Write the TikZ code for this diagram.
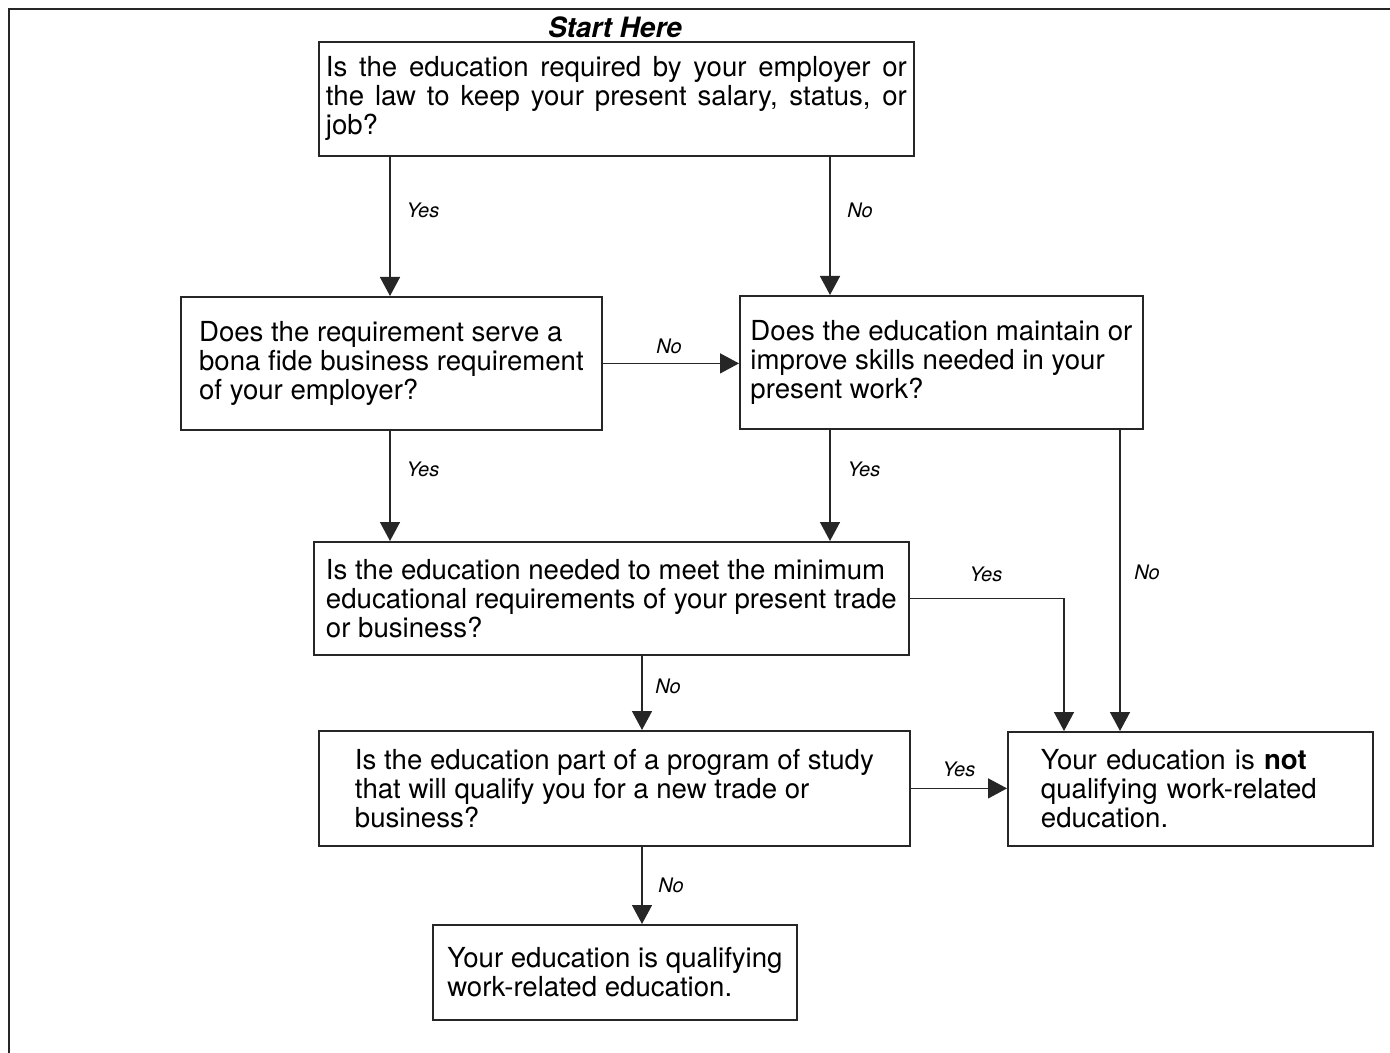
\documentclass[tikz,border=0pt]{standalone}
\usepackage{fontspec}
\setmainfont{TeX Gyre Heros}
\usetikzlibrary{
    arrows.meta
}
\tolerance=9999

\tikzset{
    qbox/.style={draw=black!85, line width=0.9pt, rectangle, anchor=north west,
        align=left, inner sep=0pt, font=\fontsize{13.8}{14.5}\selectfont},
    flow/.style={draw=black!85, line width=0.75pt, -{Triangle[length=9.5pt,width=10pt]}},
    lbl/.style={font=\fontsize{10}{12}\selectfont\itshape, inner sep=0pt}
}

\begin{document}
\begin{tikzpicture}[x=0.5pt, y=-0.5pt]
    \useasboundingbox (0,0) rectangle (1390,1053);
    % Rahmen oben und links
    \draw[line width=1pt, black!85] (9,1053) -- (9,9) -- (1390,9);

    \node[font=\fontsize{14}{16}\selectfont\bfseries\itshape] (start) at (615,27) {Start Here};

    \node[qbox, minimum width=297.5pt, minimum height=57pt, text width=290.5pt,
        inner xsep=3.5pt, align=justify] (q1) at (318,41)
        {Is the education required by your employer or\linebreak the law to keep your present salary, status, or\linebreak job?};
    \node[qbox, minimum width=210.5pt, minimum height=66.5pt] (q2) at (180,296)
        {Does the requirement serve a\\bona fide business requirement\\of your employer?};
    \node[qbox, minimum width=201.5pt, minimum height=66.5pt] (q3) at (739,295)
        {Does the education maintain or\\improve skills needed in your\\present work?};
    \node[qbox, minimum width=297.5pt, minimum height=56.5pt] (q4) at (313,541)
        {Is the education needed to meet the minimum\\educational requirements of your present trade\\or business?};
    \node[qbox, minimum width=295.5pt, minimum height=57.5pt] (q5) at (318,730)
        {Is the education part of a program of study\\that will qualify you for a new trade or\\business?};
    \node[qbox, minimum width=182.5pt, minimum height=57pt, text width=149.5pt,
        inner xsep=16.5pt] (notq) at (1007,731)
        {Your education is \textbf{not}\\qualifying work-related\\education.};
    \node[qbox, minimum width=182pt, minimum height=47.5pt] (qual) at (432,924)
        {Your education is qualifying\\work-related education.};

    % Spalten der senkrechten Pfeile
    \coordinate (cx1) at (390,0);
    \coordinate (cx2) at (830,0);
    \coordinate (cx3) at (1064,0);
    \coordinate (cx4) at (1120,0);
    \coordinate (cx5) at (642,0);

    \draw[flow] (q1.south -| cx1) -- (q2.north -| cx1);
    \draw[flow] (q1.south -| cx2) -- (q3.north -| cx2);
    \draw[flow] (q2.east) -- (q2.east -| q3.west);
    \draw[flow] (q2.south -| cx1) -- (q4.north -| cx1);
    \draw[flow] (q3.south -| cx2) -- (q4.north -| cx2);
    \draw[flow] (q3.south -| cx4) -- (notq.north -| cx4);
    \draw[flow] (q4.east) -| (notq.north -| cx3);
    \draw[flow] (q4.south -| cx5) -- (q5.north -| cx5);
    \draw[flow] (q5.east) -- (q5.east -| notq.west);
    \draw[flow] (q5.south -| cx5) -- (qual.north -| cx5);

    \node[lbl] (y1) at (423,210) {Yes};
    \node[lbl] (n1) at (860,210) {No};
    \node[lbl] (n2) at (669,346) {No};
    \node[lbl] (y2) at (423,469) {Yes};
    \node[lbl] (y3) at (864,469) {Yes};
    \node[lbl] (n3) at (1147,572) {No};
    \node[lbl] (y4) at (986,574) {Yes};
    \node[lbl] (n4) at (668,686) {No};
    \node[lbl] (y5) at (959,769) {Yes};
    \node[lbl] (n5) at (671,885) {No};
\end{tikzpicture}
\end{document}
